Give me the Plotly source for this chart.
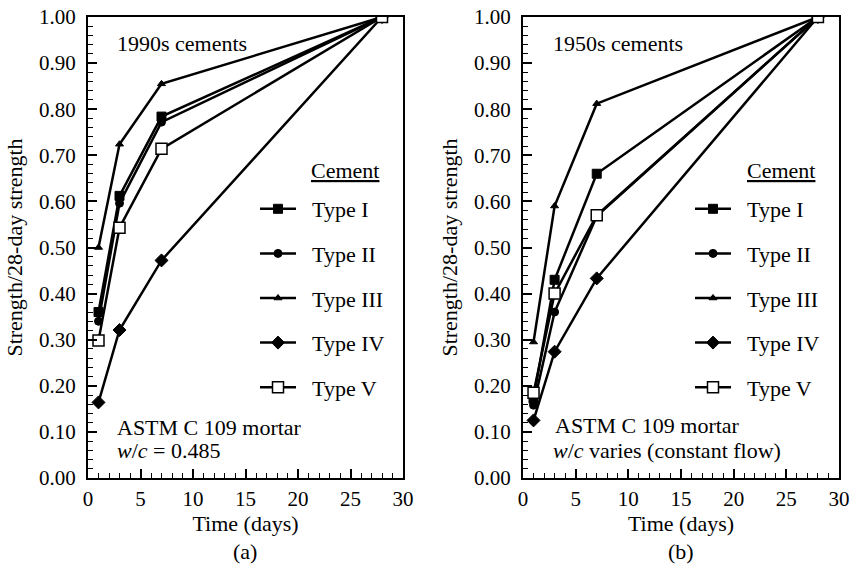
import plotly.graph_objects as go

# ---- data ----
days = [1, 3, 7, 28]
types = ["Type I", "Type II", "Type III", "Type IV", "Type V"]

# (a) 1990s cements
a_type1 = [0.36, 0.612, 0.784, 1.0]
a_type2 = [0.34, 0.596, 0.772, 1.0]
a_type3 = [0.50, 0.724, 0.855, 1.0]
a_type4 = [0.164, 0.321, 0.472, 1.0]
a_type5 = [0.298, 0.543, 0.714, 1.0]

# (b) 1950s cements
b_type1 = [0.172, 0.430, 0.660, 1.0]
b_type2 = [0.158, 0.360, 0.568, 1.0]
b_type3 = [0.295, 0.590, 0.812, 1.0]
b_type4 = [0.125, 0.274, 0.433, 1.0]
b_type5 = [0.185, 0.400, 0.570, 1.0]

x_ticks = [0, 5, 10, 15, 20, 25, 30]
y_ticks = [0.0, 0.1, 0.2, 0.3, 0.4, 0.5, 0.6, 0.7, 0.8, 0.9, 1.0]
y_ticklabels = ["%.2f" % v for v in y_ticks]

FONT = "Liberation Serif, Times New Roman, Times, serif"
W, H = 851, 579
NB = "\u00a0\u00a0"

styles = {
    "Type I": dict(symbol="square", size=9, color="black", line=dict(color="black", width=1)),
    "Type II": dict(symbol="circle", size=8, color="black", line=dict(color="black", width=1)),
    "Type III": dict(symbol="triangle-up", size=7, color="black", line=dict(color="black", width=1)),
    "Type IV": dict(symbol="diamond", size=10, color="black", line=dict(color="black", width=1)),
    "Type V": dict(symbol="square", size=11, color="white", line=dict(color="black", width=1.5)),
}

fig = go.Figure()

panels = [
    ("x", "y", "legend", [a_type1, a_type2, a_type3, a_type4, a_type5]),
    ("x2", "y2", "legend2", [b_type1, b_type2, b_type3, b_type4, b_type5]),
]
for xa, ya, leg, series in panels:
    for name, vals in zip(types, series):
        fig.add_trace(go.Scatter(
            x=days, y=vals, mode="lines+markers", name=NB + name,
            xaxis=xa, yaxis=ya, legend=leg, legendgroup=leg + name,
            line=dict(color="black", width=2.5),
            marker=styles[name],
        ))

def px_x(p):
    return p / W

def px_y(p):
    return 1 - p / H

axis_common = dict(
    showline=True, linecolor="black", linewidth=2, mirror=True,
    ticks="inside", tickcolor="black", tickwidth=1.5,
    showgrid=False, zeroline=False,
    tickfont=dict(family=FONT, size=21, color="black"),
)

xdom_a = [px_x(88), px_x(403)]
xdom_b = [px_x(523), px_x(839)]
ydom = [px_y(478), px_y(17)]

xaxis_cfg = dict(axis_common, range=[0, 30], tickmode="array", tickvals=x_ticks,
                 ticklen=9, minor=dict(dtick=1, ticks="inside", ticklen=5, tickcolor="black", tickwidth=1),
                 ticklabelstandoff=1,
                 title=dict(text="Time (days)", font=dict(family=FONT, size=22, color="black"), standoff=4))
yaxis_cfg = dict(axis_common, range=[0, 1.0], tickmode="array", tickvals=y_ticks, ticktext=y_ticklabels,
                 ticklen=9, minor=dict(dtick=0.02, ticks="inside", ticklen=5, tickcolor="black", tickwidth=1),
                 ticklabelstandoff=6,
                 title=dict(text="Strength/28-day strength", font=dict(family=FONT, size=22, color="black"), standoff=10))

legend_common = dict(
    font=dict(family=FONT, size=22, color="black"),
    bgcolor="rgba(0,0,0,0)", borderwidth=0,
    traceorder="grouped", tracegroupgap=13,
    itemwidth=36, xanchor="left", yanchor="top",
)

fig.update_layout(
    width=W, height=H,
    margin=dict(l=0, r=0, t=0, b=0, autoexpand=False),
    paper_bgcolor="white", plot_bgcolor="white",
    font=dict(family=FONT, size=22, color="black"),
    xaxis=dict(xaxis_cfg, domain=xdom_a, anchor="y"),
    yaxis=dict(yaxis_cfg, domain=ydom, anchor="x"),
    xaxis2=dict(xaxis_cfg, domain=xdom_b, anchor="y2"),
    yaxis2=dict(yaxis_cfg, domain=ydom, anchor="x2"),
    legend=dict(legend_common, x=px_x(255), y=px_y(188)),
    legend2=dict(legend_common, x=px_x(690), y=px_y(188)),
    showlegend=True,
)

annots = [
    ("1990s cements", 115, 43),
    ("ASTM C 109 mortar", 115, 427),
    ("<i>w</i>/<i>c</i> = 0.485", 115, 450),
    ("1950s cements", 551, 43),
    ("ASTM C 109 mortar", 553, 426),
    ("<i>w</i>/<i>c</i> varies (constant flow)", 551, 450),
    ("<u>Cement</u>", 309, 170),
    ("<u>Cement</u>", 745, 170),
]
for txt, x, y in annots:
    fig.add_annotation(text=txt, x=px_x(x), y=px_y(y), xref="paper", yref="paper",
                       xanchor="left", yanchor="middle", showarrow=False,
                       font=dict(family=FONT, size=22, color="black"))

for txt, x in [("(a)", 245), ("(b)", 681)]:
    fig.add_annotation(text=txt, x=px_x(x), y=px_y(551), xref="paper", yref="paper",
                       xanchor="center", yanchor="middle", showarrow=False,
                       font=dict(family=FONT, size=22, color="black"))

fig.write_html("out.html", config={"displayModeBar": False},
               post_script="document.body.style.margin='0';")
